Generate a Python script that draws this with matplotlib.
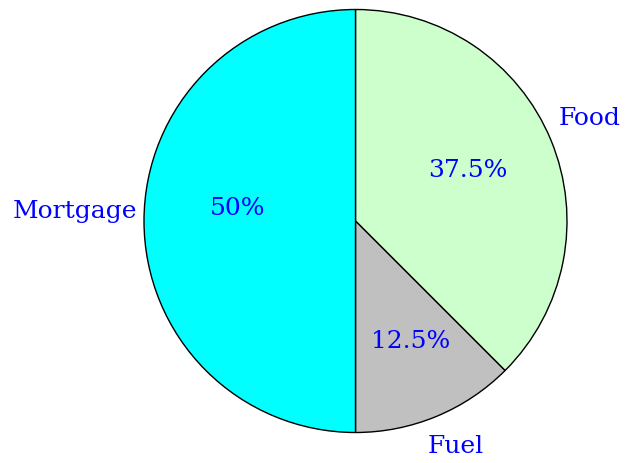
import numpy as np
import matplotlib
matplotlib.use("Agg")
import matplotlib.pyplot as plt

# Monthly spending split
categories = ["Food", "Fuel", "Mortgage"]
shares = [37.5, 12.5, 50.0]
pct_labels = ["37.5%", "12.5%", "50%"]
colors = ["#CCFFCC", "#C0C0C0", "#00FFFF"]

W, H = 628, 463
fig = plt.figure(figsize=(W / 100, H / 100), dpi=100)
ax = fig.add_axes([0, 0, 1, 1])

cx, cy, R = 355.5, 242, 211.5
wedges, _ = ax.pie(
    shares,
    colors=colors,
    startangle=90,
    counterclock=False,
    center=(cx, cy),
    radius=R,
    wedgeprops=dict(edgecolor="black", linewidth=1.0),
    frame=True,
)
ax.set_xlim(0, W)
ax.set_ylim(0, H)
ax.set_aspect("equal")
ax.axis("off")

font = dict(family="DejaVu Serif", size=18, color="#0000FF")

# label placement: (radial distance as a fraction of R, angular offset in degrees)
name_place = [(1.21, 1.2), (1.166, 1.4), (1.329, -2.0)]
pct_place = [(0.584, 1.8), (0.627, 1.9), (0.560, -6.3)]
for w, name, pct, (nd, na), (pd, pa) in zip(wedges, categories, pct_labels,
                                            name_place, pct_place):
    mid = (w.theta1 + w.theta2) / 2
    a1, a2 = np.deg2rad(mid + na), np.deg2rad(mid + pa)
    ax.text(cx + nd * R * np.cos(a1), cy + nd * R * np.sin(a1), name,
            ha="center", va="center", **font)
    ax.text(cx + pd * R * np.cos(a2), cy + pd * R * np.sin(a2), pct,
            ha="center", va="center", **font)

fig.savefig("out.png", dpi=100, facecolor="white")
